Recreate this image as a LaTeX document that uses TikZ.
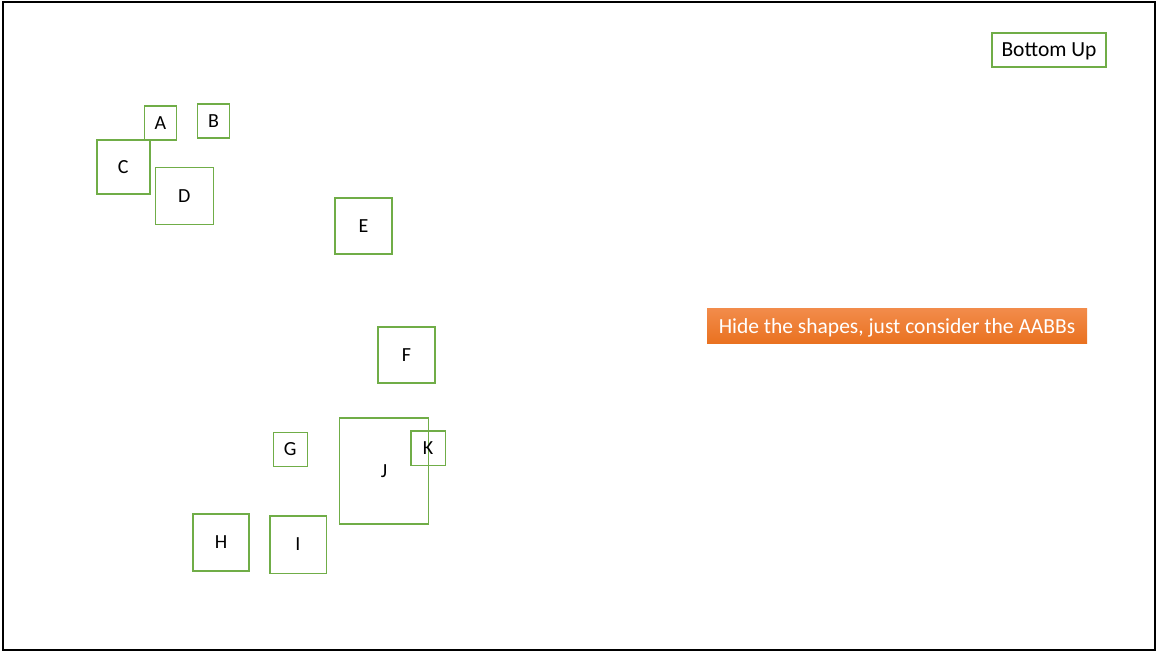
\documentclass[tikz,border=0pt]{standalone}
\usepackage{fontspec}
\setmainfont{Carlito}
\definecolor{boxgreen}{HTML}{70AD47}
\definecolor{notetop}{HTML}{F28B4A}
\definecolor{notebot}{HTML}{E9711F}
\tikzset{
  aabb/.style={draw=boxgreen, line width=1.6pt, inner sep=0pt,
               text height=12.9pt, text depth=0pt,
               font=\fontsize{20}{22}\selectfont},
  bigtext/.style={text height=13.8pt, text depth=0pt,
                  font=\fontsize{21.5}{23}\selectfont},
}
\begin{document}
\begin{tikzpicture}[x=1pt, y=-1pt]

    % ==================================================
    % 枠
    % ==================================================
    \useasboundingbox (0,0) rectangle (1157,652);
    \draw[line width=2.2pt, black] (3,2) rectangle (1155,650);

    % ==================================================
    % AABB（左上の群）
    % ==================================================
    \node[aabb, minimum width=32pt, minimum height=34pt] (a) at (160.3,123) {A};
    \node[aabb, minimum width=32pt, minimum height=34pt] (b) at (213.5,121.3) {B};
    \node[aabb, minimum width=53pt, minimum height=54pt] (c) at (123.3,167.2) {C};
    \node[aabb, minimum width=58pt, minimum height=57pt] (d) at (184.3,196) {D};

    % 中央
    \node[aabb, minimum width=57pt, minimum height=56pt] (e) at (363.5,226) {E};
    \node[aabb, minimum width=57pt, minimum height=56pt] (f) at (406.5,355) {F};

    % ==================================================
    % AABB（下の群）
    % ==================================================
    \node[aabb, minimum width=34pt, minimum height=34pt] (g) at (290.3,449.5) {G};
    \node[aabb, minimum width=56pt, minimum height=57pt] (h) at (221,542.5) {H};
    \node[aabb, minimum width=56.6pt, minimum height=57.6pt] (i) at (298,544.5) {I};
    \node[aabb, minimum width=89pt, minimum height=106pt] (j) at (384,471) {J};
    \node[aabb, minimum width=34.6pt, minimum height=34.7pt] (k) at (428,448.3) {K};

    % 見出し
    \node[aabb, bigtext, minimum width=114pt, minimum height=34pt] (title)
      at (1049,50) {Bottom Up};

    % 補足
    \node[top color=notetop, bottom color=notebot, text=white, bigtext,
          minimum width=380pt, minimum height=35pt, inner sep=0pt] (note)
      at (897,326.5) {Hide the shapes, just consider the AABBs};

\end{tikzpicture}
\end{document}
